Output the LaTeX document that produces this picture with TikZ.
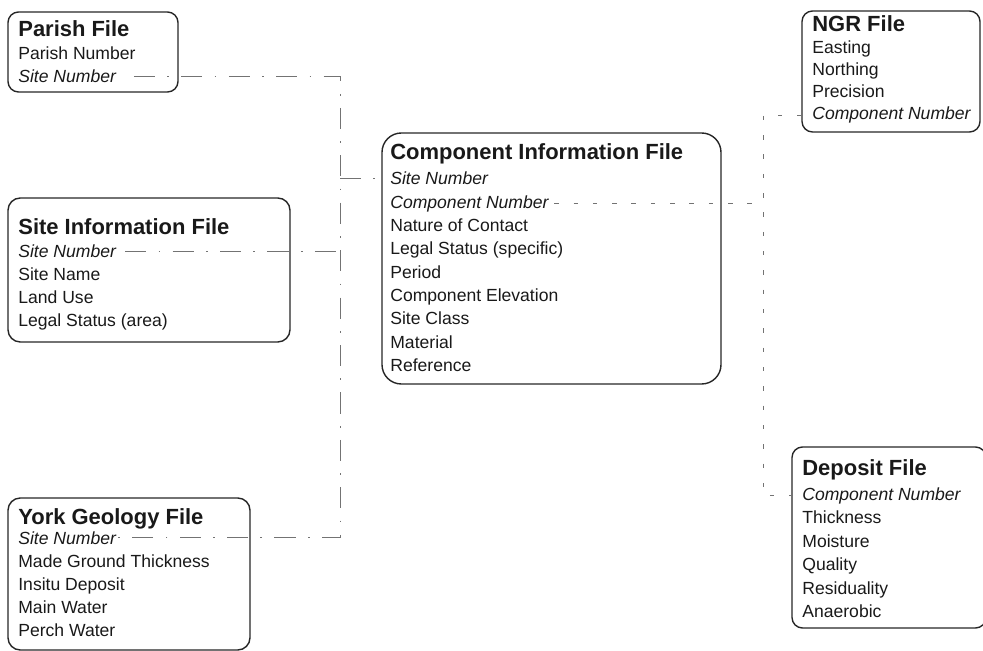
\documentclass[tikz,border=0pt]{standalone}
\usepackage{fontspec}
\setmainfont{Liberation Sans}
\usetikzlibrary{positioning,fit}

\begin{document}
\begin{tikzpicture}[x=0.02cm, y=-0.02cm,
    filebox/.style={draw=black!85, line width=0.8pt, rounded corners=#1, inner sep=0pt},
    filebox/.default=6pt,
    title/.style={anchor=base west, inner sep=0pt, text=black!90,
      font=\fontsize{12.5}{15}\selectfont\bfseries},
    entry/.style={anchor=base west, inner sep=0pt, text=black!90,
      font=\fontsize{10}{12}\selectfont},
    keylink/.style={draw=black!55, line width=0.5pt, dash pattern=on 12pt off 7pt on 1pt off 7pt},
    complink/.style={draw=black!55, line width=0.5pt, dash pattern=on 2.5pt off 8.5pt}]

  \useasboundingbox (0,0) rectangle (983,651);

  % Parish file
  \node[filebox, fit={(8,12) (178,92)}] (parish) {};
  \node[title] (parish-0) at (18,37) {Parish File};
  \foreach \txt [count=\i] in {Parish Number, {\itshape Site Number}}
    \node[entry] (parish-\i) at (18,{37+23*\i}) {\txt};

  % Site information file
  \node[filebox=7pt, fit={(8,198) (290,342)}] (site) {};
  \node[title] (site-0) at (18,235) {Site Information File};
  \foreach \txt [count=\i] in {{\itshape Site Number}, Site Name, Land Use, Legal Status (area)}
    \node[entry] (site-\i) at (18,{235+23*\i}) {\txt};

  % York geology file
  \node[filebox=7pt, fit={(8,498) (250,650)}] (york) {};
  \node[title] (york-0) at (18,524) {York Geology File};
  \foreach \txt [count=\i] in {{\itshape Site Number}, Made Ground Thickness, Insitu Deposit,
      Main Water, Perch Water}
    \node[entry] (york-\i) at (18,{521+23*\i}) {\txt};

  % Component information file
  \node[filebox=11pt, fit={(382,133) (721,384)}] (comp) {};
  \node[title] (comp-0) at (390,160) {Component Information File};
  \foreach \txt [count=\i] in {{\itshape Site Number}, {\itshape Component Number},
      Nature of Contact, Legal Status (specific), Period, Component Elevation,
      Site Class, Material, Reference}
    \node[entry] (comp-\i) at (390,{161.7+23.3*\i}) {\txt};

  % NGR file
  \node[filebox, fit={(802,11) (980,132)}] (ngr) {};
  \node[title] (ngr-0) at (812,32) {NGR File};
  \foreach \txt [count=\i] in {Easting, Northing, Precision, {\itshape Component Number}}
    \node[entry] (ngr-\i) at (812,{32+22*\i}) {\txt};

  % Deposit file
  \node[filebox, fit={(792,447) (986,628)}] (dep) {};
  \node[title] (dep-0) at (802,475) {Deposit File};
  \foreach \txt [count=\i] in {{\itshape Component Number}, Thickness, Moisture,
      Quality, Residuality, Anaerobic}
    \node[entry] (dep-\i) at (802,{476.5+23.5*\i}) {\txt};

  % Site number links
  \coordinate (lbus) at (340,0);
  \draw[keylink] ([xshift=10pt]parish-2.east) -- (parish-2.east -| lbus)
    -- (york-1.east -| lbus) -- ([xshift=1pt]york-1.east);
  \draw[keylink] ([xshift=5pt]site-1.east) -- (site-1.east -| lbus);
  \draw[keylink] (comp-1.west -| lbus) -- (comp-1.west -| comp.west);

  % Component number links
  \coordinate (rbus) at (763,0);
  \draw[complink] ([xshift=3pt]comp-2.east) -- (comp-2.east -| rbus);
  \draw[complink] (ngr-4.west -| ngr.west) -- (ngr-4.west -| rbus)
    -- (dep-1.west -| rbus) -- (dep-1.west -| dep.west);
\end{tikzpicture}
\end{document}
